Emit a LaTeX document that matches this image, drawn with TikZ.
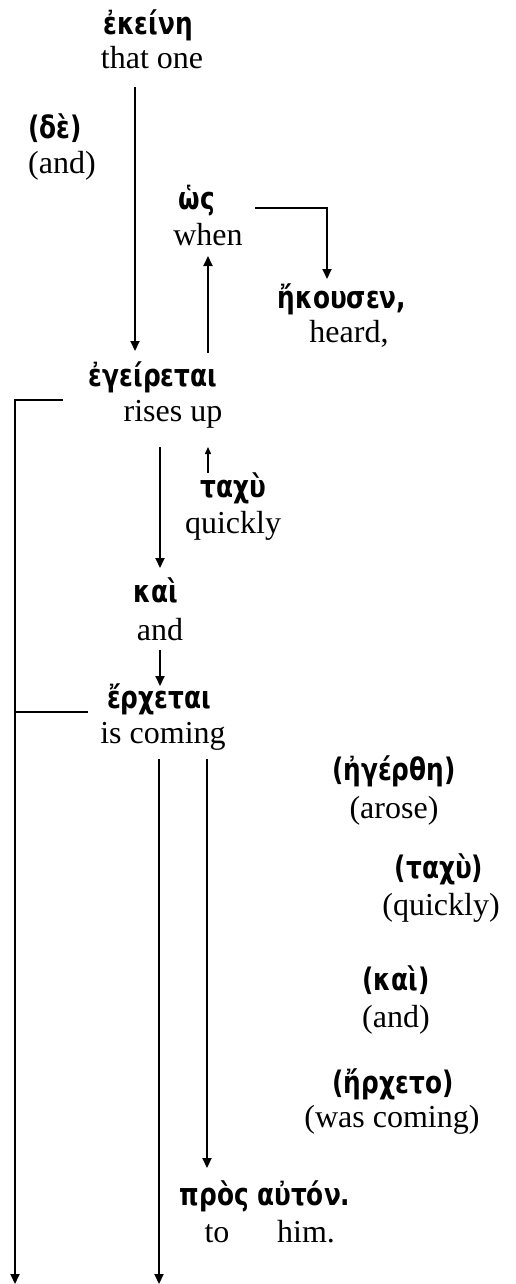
\documentclass[tikz,border=0pt]{standalone}
\usepackage{fontspec}
\setmainfont{Liberation Serif}
\newfontfamily\grk{DejaVu Sans}[FakeStretch=0.8]
\usetikzlibrary{arrows.meta}
\begin{document}
\begin{tikzpicture}[x=1pt,y=-1pt,
  gr/.style={anchor=base,font=\grk\bfseries\fontsize{31}{36}\selectfont,inner sep=0pt},
  en/.style={anchor=base,font=\fontsize{32}{38}\selectfont,inner sep=0pt},
  ln/.style={line width=2pt},
  arr/.style={ln,-{Triangle[length=10pt,width=9pt]}},
  sarr/.style={line width=1.5pt,-{Triangle[length=7pt,width=6pt]}}]
\useasboundingbox[fill=white] (0,0) rectangle (516,1284);

% words
\node[gr] (ekeini) at (148,35) {ἐκείνη};
\node[en] (ekeiniE) at (152,69) {that one};
\node[gr] (de) at (55,139) {(δὲ)};
\node[en] (deE) at (62,174) {(and)};
\node[gr] (hos) at (197,209) {ὡς};
\node[en] (hosE) at (208,245) {when};
\node[gr] (ekousen) at (342,308) {ἤκουσεν,};
\node[en] (ekousenE) at (349,342) {heard,};
\node[gr] (egeiretai) at (153,386) {ἐγείρεται};
\node[en] (egeiretaiE) at (173,421) {rises up};
\node[gr] (tachu) at (233,497) {ταχὺ};
\node[en] (tachuE) at (233,533) {quickly};
\node[gr] (kai) at (156,602) {καὶ};
\node[en] (kaiE) at (160,640) {and};
\node[gr] (erchetai) at (159,708) {ἔρχεται};
\node[en] (erchetaiE) at (163,743) {is coming};
\node[gr] (egerthe) at (394,780) {(ἠγέρθη)};
\node[en] (egertheE) at (394,818) {(arose)};
\node[gr] (tachu2) at (439,878) {(ταχὺ)};
\node[en] (tachu2E) at (441,915) {(quickly)};
\node[gr] (kai2) at (396,990) {(καὶ)};
\node[en] (kai2E) at (396,1027) {(and)};
\node[gr] (ercheto) at (393,1093) {(ἤρχετο)};
\node[en] (erchetoE) at (392,1127) {(was coming)};
\node[gr] (pros) at (265,1205) {πρὸς αὐτόν.};
\node[en] (prosA) at (217,1242) {to};
\node[en] (prosB) at (306,1242) {him.};

% connector end points
\coordinate (a1s) at (135,87);   \coordinate (a1e) at (135,351);
\coordinate (a2s) at (208,353);  \coordinate (a2e) at (208,256);
\coordinate (a3s) at (255,208);  \coordinate (a3c) at (327,208); \coordinate (a3e) at (327,279);
\coordinate (b1s) at (63,400);   \coordinate (b1c) at (15,400);  \coordinate (b1e) at (15,1284);
\coordinate (b2s) at (88,712);   \coordinate (b2c) at (15,712);
\coordinate (a6s) at (160,447);  \coordinate (a6e) at (160,568);
\coordinate (a7s) at (208,473);  \coordinate (a7e) at (208,447);
\coordinate (a8s) at (160,650);  \coordinate (a8e) at (160,686);
\coordinate (a9s) at (159,759);  \coordinate (a9e) at (159,1284);
\coordinate (a10s) at (207,759); \coordinate (a10e) at (207,1168);

\draw[arr] (a1s) -- (a1e);
\draw[arr] (a2s) -- (a2e);
\draw[arr] (a3s) -- (a3c) -- (a3e);
\draw[arr] (b1s) -- (b1c) -- (b1e);
\draw[ln] (b2s) -- (b2c);
\draw[arr] (a6s) -- (a6e);
\draw[sarr] (a7s) -- (a7e);
\draw[arr] (a8s) -- (a8e);
\draw[arr] (a9s) -- (a9e);
\draw[arr] (a10s) -- (a10e);
\end{tikzpicture}
\end{document}
